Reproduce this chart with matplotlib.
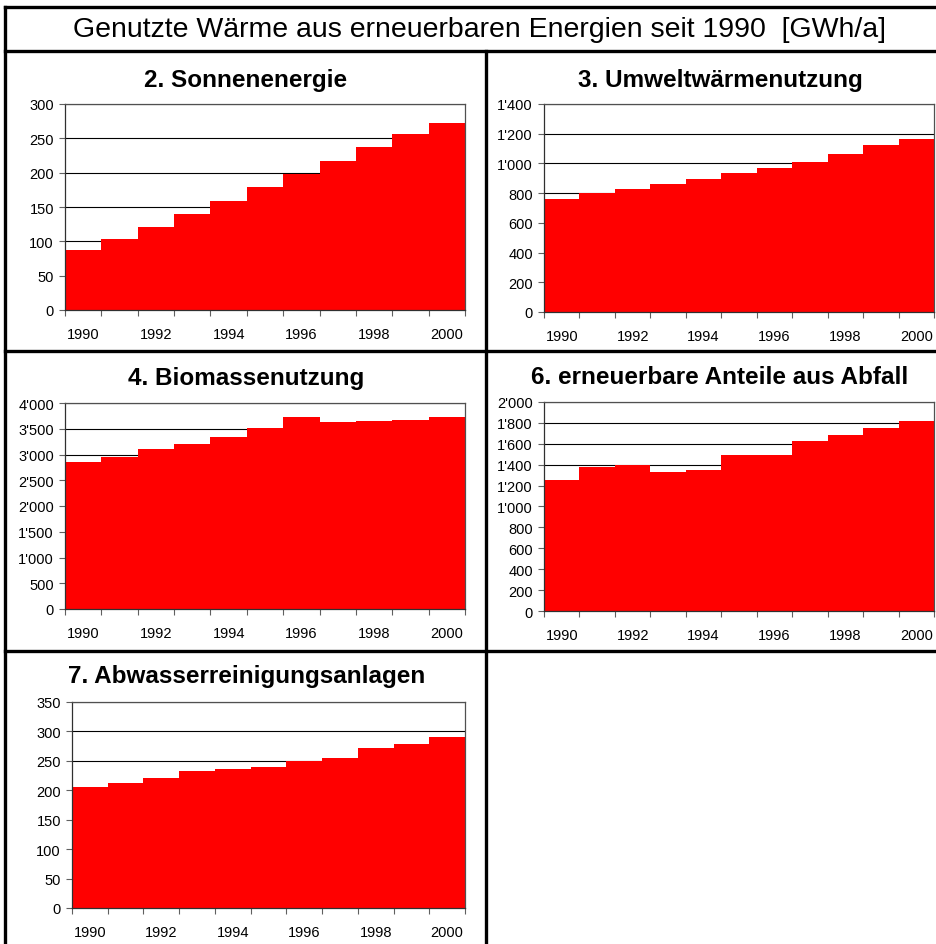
import matplotlib
matplotlib.use("Agg")
import matplotlib.pyplot as plt
from matplotlib.lines import Line2D
from matplotlib.ticker import FuncFormatter, MultipleLocator, FixedLocator
import numpy as np

plt.rcParams['font.family'] = ['Liberation Sans', 'DejaVu Sans']

years = list(range(1990, 2001))

sonne = [88, 104, 121, 140, 159, 179, 198, 217, 237, 256, 272]
umwelt = [760, 800, 827, 861, 894, 935, 968, 1009, 1063, 1124, 1164]
biomasse = [2854, 2958, 3107, 3204, 3340, 3515, 3728, 3631, 3650, 3670, 3728]
abfall = [1249, 1374, 1396, 1326, 1345, 1489, 1489, 1623, 1681, 1751, 1815]
ara = [206, 213, 221, 232, 237, 240, 249, 255, 271, 279, 291]

titles = ["2. Sonnenenergie", "3. Umweltwärmenutzung", "4. Biomassenutzung",
          "6. erneuerbare Anteile aus Abfall", "7. Abwasserreinigungsanlagen"]
series = [sonne, umwelt, biomasse, abfall, ara]
ymax = [300, 1400, 4000, 2000, 350]
ystep = [50, 200, 500, 200, 50]
main_title = "Genutzte Wärme aus erneuerbaren Energien seit 1990  [GWh/a]"

W, H = 936, 945
fig = plt.figure(figsize=(W / 100, H / 100), dpi=100)
fig.patch.set_facecolor('white')

# axes boxes in pixels: left, top, right, bottom
boxes = [(65, 105, 465, 311), (544, 105, 934, 313), (65, 404, 465, 610),
         (544, 403, 934, 612), (72, 703, 465, 909)]
title_pos = [(246, 80), (720, 80), (246, 378), (720, 378), (247, 677)]


def fmt(v, pos):
    v = int(round(v))
    s = f"{v:,}".replace(",", "'")
    return s


for i in range(5):
    l, t, r, b = boxes[i]
    ax = fig.add_axes([l / W, 1 - b / H, (r - l) / W, (b - t) / H])
    vals = series[i]
    x = np.arange(len(vals))
    ax.bar(x, vals, width=1.0, align='edge', color='#ff0000', edgecolor='none', zorder=2)
    ax.set_xlim(0, len(vals))
    ax.set_ylim(0, ymax[i])
    ax.yaxis.set_major_locator(MultipleLocator(ystep[i]))
    ax.yaxis.set_major_formatter(FuncFormatter(fmt))
    ax.grid(axis='y', color='black', linewidth=0.8, zorder=1)
    ax.set_axisbelow(True)
    ax.xaxis.set_major_locator(FixedLocator(np.arange(len(vals) + 1)))
    ax.xaxis.set_major_formatter(FuncFormatter(lambda v, p: ""))
    ax.xaxis.set_minor_locator(FixedLocator(x[::2] + 0.5))
    ax.set_xticklabels([str(y) for y in years[::2]], minor=True)
    ax.tick_params(axis='x', which='major', length=4, width=0.8, color='#606060', direction='out')
    ax.tick_params(axis='x', which='minor', length=0, pad=12, labelsize=10.5)
    ax.tick_params(axis='y', length=4, width=0.8, color='#606060', direction='out', pad=4, labelsize=10.5)
    for s in ax.spines.values():
        s.set_color('#505050')
        s.set_linewidth(0.9)
    ax.spines['left'].set_color('#303030')
    ax.spines['bottom'].set_color('#303030')
    tx, ty = title_pos[i]
    fig.text(tx / W, 1 - ty / H, titles[i], ha='center', va='center',
             fontsize=17.5, fontweight='bold')

fig.text(480 / W, 1 - 30 / H, main_title, ha='center', va='center', fontsize=20.5)


def hline(y, x0, x1):
    fig.add_artist(Line2D([x0 / W, x1 / W], [1 - y / H, 1 - y / H], color='black',
                          linewidth=2.4, transform=fig.transFigure))


def vline(x, y0, y1):
    fig.add_artist(Line2D([x / W, x / W], [1 - y0 / H, 1 - y1 / H], color='black',
                          linewidth=2.4, transform=fig.transFigure))


hline(8, 5, 936)
hline(52, 5, 936)
hline(352, 5, 936)
hline(652, 5, 936)
vline(5, 8, 945)
vline(486, 52, 945)

fig.savefig("out.png", dpi=100, facecolor='white')
